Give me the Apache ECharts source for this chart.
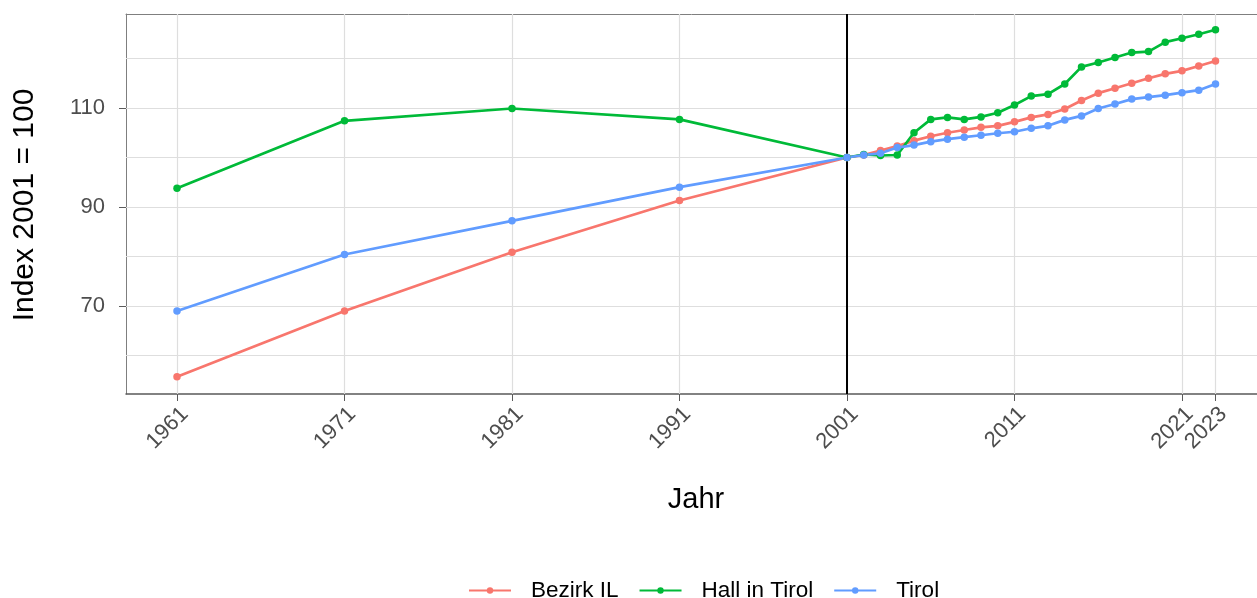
<!DOCTYPE html>
<html>
<head>
<meta charset="utf-8">
<script src="https://cdn.jsdelivr.net/npm/echarts@6/dist/echarts.min.js"></script>
<style>html,body{margin:0;padding:0;background:#fff;}#c{width:1257px;height:598px;}</style>
</head>
<body>
<div id="c"></div>
<script>
const years = [1961,1971,1981,1991,2001,2002,2003,2004,2005,2006,2007,2008,2009,2010,2011,2012,2013,2014,2015,2016,2017,2018,2019,2020,2021,2022,2023];
const bezirkIL = [55.7,69.0,80.85,91.3,100,100.5,101.4,102.3,103.4,104.3,105.0,105.55,106.1,106.4,107.2,108.1,108.7,109.8,111.5,113.0,114.0,115.0,116.0,116.9,117.5,118.5,119.5];
const hallInTirol = [93.8,107.4,109.9,107.7,100,100.6,100.4,100.5,105.0,107.7,108.1,107.7,108.2,109.05,110.6,112.4,112.8,114.85,118.3,119.2,120.2,121.2,121.4,123.3,124.1,124.9,125.8];
const tirol = [69.0,80.4,87.2,94.0,100,100.5,100.85,102.0,102.5,103.2,103.7,104.1,104.5,104.9,105.2,105.9,106.4,107.6,108.4,109.9,110.8,111.8,112.2,112.6,113.1,113.6,114.85];
const xBreaks = [1961,1971,1981,1991,2001,2011,2021,2023];
const yBreaks = [70,90,110];
const yMinor = [60,80,100,120];
const seriesNames = ['Bezirk IL','Hall in Tirol','Tirol'];
const colors = ['#F8766D','#00BA38','#619CFF'];

const chart = echarts.init(document.getElementById('c'));
const pair = arr => years.map((y,i)=>[y,arr[i]]);
const gridColor = '#dedede';
const gridLines = [
  ...xBreaks.map(v=>({xAxis:v})),
  ...yBreaks.concat(yMinor).map(v=>({yAxis:v}))
];
const font = 'Liberation Sans, Arial, sans-serif';
function lineSeries(name, data, color, extra){
  return Object.assign({
    name, type:'line', data:pair(data), color, xAxisIndex:0,
    symbol:'circle', symbolSize:7.5, showSymbol:true,
    lineStyle:{width:2.7, color}, itemStyle:{color},
    z:5, animation:false
  }, extra||{});
}
chart.setOption({
  animation:false,
  backgroundColor:'#fff',
  grid:{left:126, top:14, right:0, bottom:204, show:false},
  xAxis:[{
    type:'value', min:1957.955, max:2025.478,
    axisLine:{show:true, lineStyle:{color:'#5a5a5a', width:1.5}},
    axisTick:{show:true, customValues:xBreaks, length:7, lineStyle:{color:'#5a5a5a'}},
    axisLabel:{customValues:xBreaks, rotate:45, align:'right', verticalAlign:'top', fontSize:22, color:'#4d4d4d', fontFamily:font, margin:9, formatter:v=>String(v)},
    splitLine:{show:false}
  },{
    type:'value', position:'top', min:1957.955, max:2025.478,
    axisLine:{show:true, lineStyle:{color:'#7f7f7f', width:1}},
    axisTick:{show:false}, axisLabel:{show:false}, splitLine:{show:false}
  }],
  yAxis:{
    type:'value', min:52.22, max:128.99,
    axisLine:{show:true, lineStyle:{color:'#7f7f7f', width:1}},
    axisTick:{show:true, customValues:yBreaks, length:7, lineStyle:{color:'#5a5a5a'}},
    axisLabel:{customValues:yBreaks, fontSize:22, color:'#4d4d4d', fontFamily:font, margin:21},
    splitLine:{show:false}
  },
  legend:{
    data:seriesNames, top:574, left:463, itemWidth:42, itemHeight:8, itemGap:20,
    textStyle:{fontSize:22.5, color:'#000', fontFamily:font, padding:[0,0,0,15]}
  },
  graphic:[
    {type:'text', x:696, y:500, style:{text:'Jahr', fontSize:29, fill:'#000', fontFamily:font, align:'center', verticalAlign:'middle'}},
    {type:'text', x:25, y:205, rotation:Math.PI/2, style:{text:'Index 2001 = 100', fontSize:30, fill:'#000', fontFamily:font, align:'center', verticalAlign:'middle'}}
  ],
  series:[
    {type:'line', data:[], silent:true, z:1,
     markLine:{silent:true, symbol:'none', animation:false, label:{show:false},
       lineStyle:{color:gridColor, width:1.2, type:'solid'}, data:gridLines}},
    lineSeries(seriesNames[0], bezirkIL, colors[0]),
    lineSeries(seriesNames[1], hallInTirol, colors[1]),
    lineSeries(seriesNames[2], tirol, colors[2], {
      markLine:{silent:true, symbol:'none', animation:false, label:{show:false},
        lineStyle:{color:'#000', width:2, type:'solid'}, data:[{xAxis:2001}]}
    })
  ]
});
</script>
</body>
</html>
